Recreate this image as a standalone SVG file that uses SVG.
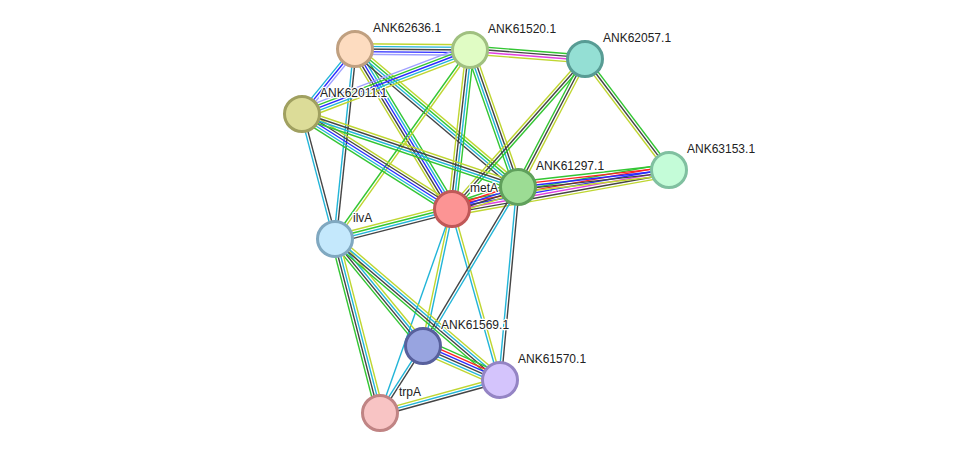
<svg xmlns="http://www.w3.org/2000/svg" width="975" height="459" viewBox="0 0 975 459">
<style>
line{stroke-width:1.4;fill:none;vector-effect:non-scaling-stroke}
.g{stroke:#33c633}.r{stroke:#f22}.b{stroke:#2a2aff}.k{stroke:#444}.c{stroke:#22b5d8}.y{stroke:#bfd631}.m{stroke:#e040e0}.h{stroke:#a0a0ff}
circle{stroke-width:3}
text{font-family:"Liberation Sans",Arial,sans-serif;font-size:12px;fill:#222;paint-order:stroke;stroke:#fff;stroke-width:2.5px;stroke-linejoin:round}
</style>
<rect width="975" height="459" fill="#fff"/>
<g id="edges">
<g transform="translate(355 49) rotate(0.5) scale(1 1.2)"><line class="y" x1="0" y1="-4.4" x2="115" y2="-4.4"/><line class="c" x1="0" y1="-2.2" x2="115" y2="-2.2"/><line class="k" x1="0" y1="0" x2="115" y2="0"/><line class="b" x1="0" y1="2.2" x2="115" y2="2.2"/><line class="h" x1="0" y1="4.4" x2="115" y2="4.4"/></g>
<g transform="translate(355 49) rotate(129.2) scale(1 1.2)"><line class="h" x1="0" y1="-2.2" x2="84" y2="-2.2"/><line class="b" x1="0" y1="0" x2="84" y2="0"/><line class="c" x1="0" y1="2.2" x2="84" y2="2.2"/></g>
<g transform="translate(355 49) rotate(96) scale(1 1.2)"><line class="k" x1="0" y1="-1.1" x2="191" y2="-1.1"/><line class="c" x1="0" y1="1.1" x2="191" y2="1.1"/></g>
<g transform="translate(355 49) rotate(58.8) scale(1 1.2)"><line class="g" x1="0" y1="-4.4" x2="187" y2="-4.4"/><line class="c" x1="0" y1="-2.2" x2="187" y2="-2.2"/><line class="b" x1="0" y1="0" x2="187" y2="0"/><line class="k" x1="0" y1="2.2" x2="187" y2="2.2"/><line class="y" x1="0" y1="4.4" x2="187" y2="4.4"/></g>
<g transform="translate(355 49) rotate(40.25) scale(1 1.2)"><line class="y" x1="0" y1="-3.3" x2="214" y2="-3.3"/><line class="g" x1="0" y1="-1.1" x2="214" y2="-1.1"/><line class="c" x1="0" y1="1.1" x2="214" y2="1.1"/><line class="k" x1="0" y1="3.3" x2="214" y2="3.3"/></g>
<g transform="translate(470 50) rotate(159.15) scale(1 1.2)"><line class="y" x1="0" y1="-4.4" x2="180" y2="-4.4"/><line class="c" x1="0" y1="-2.2" x2="180" y2="-2.2"/><line class="b" x1="0" y1="0" x2="180" y2="0"/><line class="g" x1="0" y1="2.2" x2="180" y2="2.2"/><line class="h" x1="0" y1="4.4" x2="180" y2="4.4"/></g>
<g transform="translate(470 50) rotate(4.47) scale(1 1.2)"><line class="g" x1="0" y1="-3.3" x2="115" y2="-3.3"/><line class="k" x1="0" y1="-1.1" x2="115" y2="-1.1"/><line class="m" x1="0" y1="1.1" x2="115" y2="1.1"/><line class="y" x1="0" y1="3.3" x2="115" y2="3.3"/></g>
<g transform="translate(470 50) rotate(96.46) scale(1 1.2)"><line class="g" x1="0" y1="-3.3" x2="160" y2="-3.3"/><line class="c" x1="0" y1="-1.1" x2="160" y2="-1.1"/><line class="k" x1="0" y1="1.1" x2="160" y2="1.1"/><line class="y" x1="0" y1="3.3" x2="160" y2="3.3"/></g>
<g transform="translate(470 50) rotate(70.7) scale(1 1.2)"><line class="y" x1="0" y1="-3.3" x2="145" y2="-3.3"/><line class="k" x1="0" y1="-1.1" x2="145" y2="-1.1"/><line class="c" x1="0" y1="1.1" x2="145" y2="1.1"/><line class="g" x1="0" y1="3.3" x2="145" y2="3.3"/></g>
<g transform="translate(470 50) rotate(125.54) scale(1 1.2)"><line class="y" x1="0" y1="-1.1" x2="232" y2="-1.1"/><line class="g" x1="0" y1="1.1" x2="232" y2="1.1"/></g>
<g transform="translate(585 59) rotate(52.9) scale(1 1.2)"><line class="g" x1="0" y1="-2.2" x2="139" y2="-2.2"/><line class="k" x1="0" y1="0" x2="139" y2="0"/><line class="y" x1="0" y1="2.2" x2="139" y2="2.2"/></g>
<g transform="translate(585 59) rotate(117.6) scale(1 1.2)"><line class="y" x1="0" y1="-2.2" x2="144" y2="-2.2"/><line class="k" x1="0" y1="0" x2="144" y2="0"/><line class="g" x1="0" y1="2.2" x2="144" y2="2.2"/></g>
<g transform="translate(585 59) rotate(131.56) scale(1 1.2)"><line class="g" x1="0" y1="-2.2" x2="200" y2="-2.2"/><line class="k" x1="0" y1="0" x2="200" y2="0"/><line class="y" x1="0" y1="2.2" x2="200" y2="2.2"/></g>
<g transform="translate(302 114) rotate(32.35) scale(1 1.2)"><line class="y" x1="0" y1="-4.4" x2="178" y2="-4.4"/><line class="k" x1="0" y1="-2.2" x2="178" y2="-2.2"/><line class="b" x1="0" y1="0" x2="178" y2="0"/><line class="c" x1="0" y1="2.2" x2="178" y2="2.2"/><line class="g" x1="0" y1="4.4" x2="178" y2="4.4"/></g>
<g transform="translate(302 114) rotate(18.67) scale(1 1.2)"><line class="y" x1="0" y1="-3.3" x2="228" y2="-3.3"/><line class="k" x1="0" y1="-1.1" x2="228" y2="-1.1"/><line class="c" x1="0" y1="1.1" x2="228" y2="1.1"/><line class="g" x1="0" y1="3.3" x2="228" y2="3.3"/></g>
<g transform="translate(302 114) rotate(75.2) scale(1 1.2)"><line class="k" x1="0" y1="-1.1" x2="129" y2="-1.1"/><line class="c" x1="0" y1="1.1" x2="129" y2="1.1"/></g>
<g transform="translate(452 209) rotate(-10.19) scale(1 1.2)"><line class="g" x1="0" y1="-5.5" x2="220" y2="-5.5"/><line class="r" x1="0" y1="-3.3" x2="220" y2="-3.3"/><line class="b" x1="0" y1="-1.1" x2="220" y2="-1.1"/><line class="m" x1="0" y1="1.1" x2="220" y2="1.1"/><line class="k" x1="0" y1="3.3" x2="220" y2="3.3"/><line class="y" x1="0" y1="5.5" x2="220" y2="5.5"/></g>
<g transform="translate(518 187) rotate(-6.42) scale(1 1.2)"><line class="g" x1="0" y1="-4.4" x2="152" y2="-4.4"/><line class="r" x1="0" y1="-2.2" x2="152" y2="-2.2"/><line class="b" x1="0" y1="0" x2="152" y2="0"/><line class="k" x1="0" y1="2.2" x2="152" y2="2.2"/><line class="y" x1="0" y1="4.4" x2="152" y2="4.4"/></g>
<g transform="translate(452 209) rotate(-18.43) scale(1 1.2)"><line class="g" x1="0" y1="-4.4" x2="70" y2="-4.4"/><line class="r" x1="0" y1="-2.2" x2="70" y2="-2.2"/><line class="b" x1="0" y1="0" x2="70" y2="0"/><line class="k" x1="0" y1="2.2" x2="70" y2="2.2"/><line class="y" x1="0" y1="4.4" x2="70" y2="4.4"/></g>
<g transform="translate(452 209) rotate(165.62) scale(1 1.2)"><line class="k" x1="0" y1="-3.3" x2="121" y2="-3.3"/><line class="c" x1="0" y1="-1.1" x2="121" y2="-1.1"/><line class="g" x1="0" y1="1.1" x2="121" y2="1.1"/><line class="y" x1="0" y1="3.3" x2="121" y2="3.3"/></g>
<g transform="translate(452 209) rotate(101.95) scale(1 1.2)"><line class="c" x1="0" y1="-1.1" x2="140" y2="-1.1"/><line class="y" x1="0" y1="1.1" x2="140" y2="1.1"/></g>
<g transform="translate(452 209) rotate(74.3) scale(1 1.2)"><line class="y" x1="0" y1="-1.1" x2="178" y2="-1.1"/><line class="c" x1="0" y1="1.1" x2="178" y2="1.1"/></g>
<g transform="translate(452 209) rotate(109.44)"><line class="c" x1="0" y1="0" x2="216" y2="0"/></g>
<g transform="translate(518 187) rotate(120.86) scale(1 1.2)"><line class="c" x1="0" y1="-1.1" x2="185" y2="-1.1"/><line class="k" x1="0" y1="1.1" x2="185" y2="1.1"/></g>
<g transform="translate(518 187) rotate(95.33) scale(1 1.2)"><line class="k" x1="0" y1="-1.1" x2="194" y2="-1.1"/><line class="c" x1="0" y1="1.1" x2="194" y2="1.1"/></g>
<g transform="translate(335 239) rotate(50.56) scale(1 1.2)"><line class="y" x1="0" y1="-3.3" x2="138" y2="-3.3"/><line class="c" x1="0" y1="-1.1" x2="138" y2="-1.1"/><line class="k" x1="0" y1="1.1" x2="138" y2="1.1"/><line class="g" x1="0" y1="3.3" x2="138" y2="3.3"/></g>
<g transform="translate(335 239) rotate(40.5) scale(1 1.2)"><line class="y" x1="0" y1="-3.3" x2="217" y2="-3.3"/><line class="c" x1="0" y1="-1.1" x2="217" y2="-1.1"/><line class="k" x1="0" y1="1.1" x2="217" y2="1.1"/><line class="g" x1="0" y1="3.3" x2="217" y2="3.3"/></g>
<g transform="translate(335 239) rotate(75.5) scale(1 1.2)"><line class="y" x1="0" y1="-3.3" x2="180" y2="-3.3"/><line class="c" x1="0" y1="-1.1" x2="180" y2="-1.1"/><line class="k" x1="0" y1="1.1" x2="180" y2="1.1"/><line class="g" x1="0" y1="3.3" x2="180" y2="3.3"/></g>
<g transform="translate(423 346) rotate(23.83) scale(1 1.2)"><line class="g" x1="0" y1="-5.5" x2="84" y2="-5.5"/><line class="r" x1="0" y1="-3.3" x2="84" y2="-3.3"/><line class="b" x1="0" y1="-1.1" x2="84" y2="-1.1"/><line class="k" x1="0" y1="1.1" x2="84" y2="1.1"/><line class="c" x1="0" y1="3.3" x2="84" y2="3.3"/><line class="y" x1="0" y1="5.5" x2="84" y2="5.5"/></g>
<g transform="translate(423 346) rotate(122.7) scale(1 1.2)"><line class="k" x1="0" y1="-1.1" x2="80" y2="-1.1"/><line class="c" x1="0" y1="1.1" x2="80" y2="1.1"/></g>
<g transform="translate(500 380) rotate(164.6) scale(1 1.2)"><line class="k" x1="0" y1="-2.2" x2="125" y2="-2.2"/><line class="c" x1="0" y1="0" x2="125" y2="0"/><line class="y" x1="0" y1="2.2" x2="125" y2="2.2"/></g>
</g>
<g id="labels">
<text x="373" y="32">ANK62636.1</text>
<text x="488" y="33">ANK61520.1</text>
<text x="603" y="42">ANK62057.1</text>
<text x="320" y="97">ANK62011.1</text>
<text x="687" y="153">ANK63153.1</text>
<text x="536" y="170">ANK61297.1</text>
<text x="470" y="192">metA</text>
<text x="353" y="222">ilvA</text>
<text x="441" y="329">ANK61569.1</text>
<text x="518" y="363">ANK61570.1</text>
<text x="399" y="396">trpA</text>
</g>
<g id="n-ANK62636"><circle cx="355" cy="49" r="17.5" fill="#fddcc0" stroke="#c0a080"/></g>
<g id="n-ANK61520"><circle cx="470" cy="50" r="17.5" fill="#e0fcc4" stroke="#a0c080"/></g>
<g id="n-ANK62057"><circle cx="585" cy="59" r="17.5" fill="#94dfd4" stroke="#589c94"/></g>
<g id="n-ANK62011"><circle cx="302" cy="114" r="17.5" fill="#dcdc98" stroke="#a0a060"/></g>
<g id="n-ANK63153"><circle cx="669" cy="170" r="17.5" fill="#c4fcd8" stroke="#80c0a0"/></g>
<g id="n-ANK61297"><circle cx="518" cy="187" r="17.5" fill="#9cdc94" stroke="#60a05c"/></g>
<g id="n-metA"><circle cx="452" cy="209" r="17.5" fill="#fc9494" stroke="#c05858"/></g>
<g id="n-ilvA"><circle cx="335" cy="239" r="17.5" fill="#c4e8fc" stroke="#80a8c0"/></g>
<g id="n-ANK61569"><circle cx="423" cy="346" r="17.5" fill="#98a4e0" stroke="#58609c"/></g>
<g id="n-ANK61570"><circle cx="500" cy="380" r="17.5" fill="#d4c4fc" stroke="#9484c4"/></g>
<g id="n-trpA"><circle cx="380" cy="413" r="17.5" fill="#f8c4c4" stroke="#c08484"/></g>
</svg>
